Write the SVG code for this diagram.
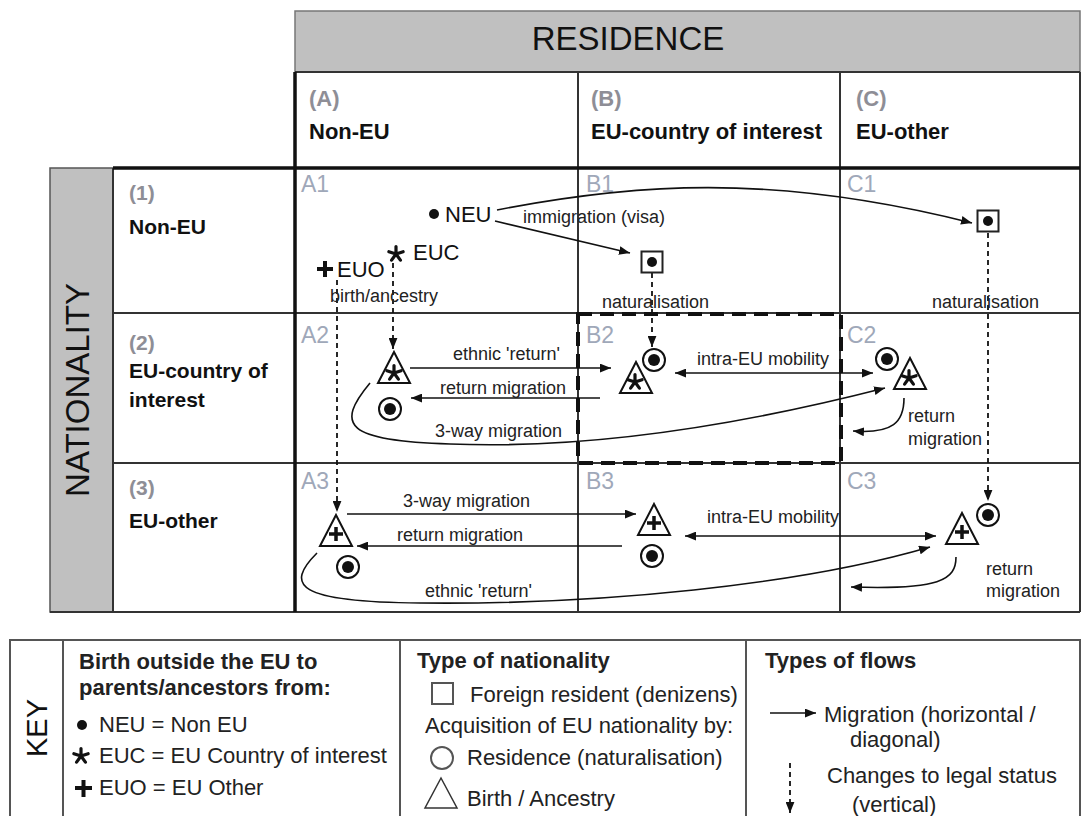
<svg xmlns="http://www.w3.org/2000/svg" xmlns:xlink="http://www.w3.org/1999/xlink" width="1082" height="816" viewBox="0 0 1082 816">
<style>
  text { font-family: "Liberation Sans", Arial, sans-serif; }
  .lbl { font-size: 18px; fill: #222; }
  .cell { font-size: 23px; fill: #9fa8b9; }
  .hdr { font-size: 22px; font-weight: bold; fill: #111; }
  .hdrg { font-size: 22px; font-weight: bold; fill: #8e8e96; }
  .row { font-size: 21px; font-weight: bold; fill: #111; }
  .rowg { font-size: 21px; font-weight: bold; fill: #8e8e96; }
  .orig { font-size: 22px; fill: #111; }
  .big { font-size: 33px; fill: #111; }
  .key { font-size: 22px; fill: #222; }
  .keyb { font-size: 22px; font-weight: bold; fill: #222; }
  .grid { stroke: #333; stroke-width: 2; fill: none; }
  .thick { stroke: #111; stroke-width: 3.5; fill: none; }
  .flow { stroke: #111; stroke-width: 1.6; fill: none; }
  .status { stroke: #111; stroke-width: 1.8; fill: none; stroke-dasharray: 5 4; }
</style>
<defs>
  <marker id="ah" viewBox="0 0 10 8" refX="10" refY="4" markerWidth="11" markerHeight="9" markerUnits="userSpaceOnUse" orient="auto-start-reverse">
    <path d="M0,0 L10,4 L0,8 Z" fill="#111"/>
  </marker>
  <g id="tri"><path d="M0,0 L16,31 L-16,31 Z" fill="#fff" stroke="#111" stroke-width="2"/></g>
  <g id="ring"><circle r="11" fill="#fff" stroke="#111" stroke-width="2"/><circle r="6" fill="#111"/></g>
  <g id="sq"><rect x="-10.5" y="-10.5" width="21" height="21" fill="#fff" stroke="#222" stroke-width="2"/><circle r="5" fill="#111"/></g>
  <g id="ast"><path d="M0,0 L0,-7.5 M0,0 L7.1,-2.3 M0,0 L4.4,6.1 M0,0 L-4.4,6.1 M0,0 L-7.1,-2.3" stroke="#111" stroke-width="3.2" stroke-linecap="round" fill="none"/></g>
  <g id="plus"><path d="M-7,0 H7 M0,-7 V7" stroke="#111" stroke-width="3.5" fill="none"/></g>
</defs>

<g id="grid">
  <rect x="295" y="11" width="785" height="61" fill="#c0c0c0" stroke="#777" stroke-width="1.5"/>
  <text class="big" x="628" y="50" text-anchor="middle">RESIDENCE</text>
  <rect x="50" y="168" width="63" height="444" fill="#c0c0c0" stroke="#555" stroke-width="1.5"/>
  <text class="big" x="89" y="390" text-anchor="middle" transform="rotate(-90 89 390)">NATIONALITY</text>
  <path class="grid" d="M295,72 H1080 M113,313 H1080 M113,463 H1080 M50,612 H1080 M113,168 V612 M578,72 V612 M840,72 V612 M1080,72 V612"/>
  <path class="thick" d="M113,168 H1080 M295,72 V612"/>
  <rect x="578" y="314" width="263" height="149" fill="none" stroke="#111" stroke-width="4" stroke-dasharray="14 8"/>
</g>

<g id="headers">
  <text class="hdrg" x="309" y="106">(A)</text>
  <text class="hdr" x="309" y="139">Non-EU</text>
  <text class="hdrg" x="591" y="106">(B)</text>
  <text class="hdr" x="591" y="139">EU-country of interest</text>
  <text class="hdrg" x="856" y="106">(C)</text>
  <text class="hdr" x="856" y="139">EU-other</text>
  <text class="rowg" x="129" y="200">(1)</text>
  <text class="row" x="129" y="234">Non-EU</text>
  <text class="rowg" x="129" y="350">(2)</text>
  <text class="row" x="129" y="378">EU-country of</text>
  <text class="row" x="129" y="407">interest</text>
  <text class="rowg" x="129" y="495">(3)</text>
  <text class="row" x="129" y="528">EU-other</text>
  <text class="cell" x="301" y="192">A1</text>
  <text class="cell" x="586" y="192">B1</text>
  <text class="cell" x="847" y="192">C1</text>
  <text class="cell" x="301" y="343">A2</text>
  <text class="cell" x="586" y="343">B2</text>
  <text class="cell" x="847" y="343">C2</text>
  <text class="cell" x="301" y="489">A3</text>
  <text class="cell" x="586" y="489">B3</text>
  <text class="cell" x="847" y="489">C3</text>
</g>

<g id="connectors">
  <path class="flow" d="M495,221 L630,253" marker-end="url(#ah)"/>
  <path class="flow" d="M497,210 C630,184 770,172 972,223" marker-end="url(#ah)"/>
  <path class="status" d="M652,273 L652,347" marker-end="url(#ah)"/>
  <path class="status" d="M988,233 L988,501" marker-end="url(#ah)"/>
  <path class="status" d="M393,263 L393,349" marker-end="url(#ah)"/>
  <path class="status" d="M337,280 L337,512" marker-end="url(#ah)"/>
  <path class="flow" d="M410,368 L611,368" marker-end="url(#ah)"/>
  <path class="flow" d="M600,398 L411,398" marker-end="url(#ah)"/>
  <path class="flow" d="M370,383 C335,425 345,441 450,444 C600,450 760,420 885,388" marker-end="url(#ah)"/>
  <path class="flow" d="M675,373 L873,373" marker-start="url(#ah)" marker-end="url(#ah)"/>
  <path class="flow" d="M904,398 C904,422 893,434 853,431" marker-end="url(#ah)"/>
  <path class="flow" d="M347,514 L636,514" marker-end="url(#ah)"/>
  <path class="flow" d="M622,546 L357,546" marker-end="url(#ah)"/>
  <path class="flow" d="M685,536 L936,536" marker-start="url(#ah)" marker-end="url(#ah)"/>
  <path class="flow" d="M317,553 C285,585 295,602 420,603 C600,605 800,585 930,547" marker-end="url(#ah)"/>
  <path class="flow" d="M956,557 C956,580 940,590 851,587" marker-end="url(#ah)"/>
  <text class="lbl" x="523" y="223">immigration (visa)</text>
  <text class="lbl" x="330" y="302">birth/ancestry</text>
  <text class="lbl" x="602" y="308">naturalisation</text>
  <text class="lbl" x="932" y="308">naturalisation</text>
  <text class="lbl" x="453" y="360">ethnic 'return'</text>
  <text class="lbl" x="440" y="394">return migration</text>
  <text class="lbl" x="435" y="437">3-way migration</text>
  <text class="lbl" x="697" y="365">intra-EU mobility</text>
  <text class="lbl" x="908" y="422">return</text>
  <text class="lbl" x="908" y="445">migration</text>
  <text class="lbl" x="403" y="507">3-way migration</text>
  <text class="lbl" x="397" y="541">return migration</text>
  <text class="lbl" x="707" y="523">intra-EU mobility</text>
  <text class="lbl" x="425" y="597">ethnic 'return'</text>
  <text class="lbl" x="986" y="575">return</text>
  <text class="lbl" x="986" y="597">migration</text>
</g>

<g id="node-NEU"><circle cx="434" cy="214" r="5" fill="#111"/><text class="orig" x="445" y="222">NEU</text></g>
<g id="node-EUC"><use xlink:href="#ast" x="396" y="254"/><text class="orig" x="413" y="260">EUC</text></g>
<g id="node-EUO"><path d="M317,269 H333 M325,261 V277" stroke="#111" stroke-width="4" fill="none"/><text class="orig" x="337" y="277">EUO</text></g>
<g id="node-B1"><use xlink:href="#sq" x="652" y="262"/></g>
<g id="node-C1"><use xlink:href="#sq" x="988" y="221"/></g>
<g id="node-A2-tri"><use xlink:href="#tri" x="394" y="352"/><use xlink:href="#ast" x="394" y="373"/></g>
<g id="node-A2-ring"><use xlink:href="#ring" x="390" y="409"/></g>
<g id="node-B2-ring"><use xlink:href="#ring" x="654" y="360"/></g>
<g id="node-B2-tri"><use xlink:href="#tri" x="636" y="362"/><use xlink:href="#ast" x="635" y="382"/></g>
<g id="node-C2-ring"><use xlink:href="#ring" x="887" y="359"/></g>
<g id="node-C2-tri"><use xlink:href="#tri" x="910" y="358"/><use xlink:href="#ast" x="909" y="378"/></g>
<g id="node-A3-tri"><use xlink:href="#tri" x="336" y="515"/><use xlink:href="#plus" x="336" y="534"/></g>
<g id="node-A3-ring"><use xlink:href="#ring" x="348" y="567"/></g>
<g id="node-B3-tri"><use xlink:href="#tri" x="654" y="504"/><use xlink:href="#plus" x="654" y="523"/></g>
<g id="node-B3-ring"><use xlink:href="#ring" x="652" y="556"/></g>
<g id="node-C3-tri"><use xlink:href="#tri" x="962" y="513"/><use xlink:href="#plus" x="962" y="532"/></g>
<g id="node-C3-ring"><use xlink:href="#ring" x="988" y="515"/></g>

<g id="key">
  <rect x="10" y="640" width="1070" height="190" fill="none" stroke="#555" stroke-width="2"/>
  <path d="M63,640 V816 M400,640 V816 M746,640 V816" stroke="#555" stroke-width="2" fill="none"/>
  <text x="47" y="728" font-size="29" fill="#111" text-anchor="middle" transform="rotate(-90 47 728)">KEY</text>
  <text class="keyb" x="79" y="669">Birth outside the EU to</text>
  <text class="keyb" x="79" y="695">parents/ancestors from:</text>
  <circle cx="82" cy="725" r="5" fill="#111"/>
  <text class="key" x="99" y="732">NEU = Non EU</text>
  <use xlink:href="#ast" x="81" y="756"/>
  <text class="key" x="99" y="763">EUC = EU Country of interest</text>
  <path d="M75,788 H92 M83.5,780 V797" stroke="#111" stroke-width="4" fill="none"/>
  <text class="key" x="99" y="795">EUO = EU Other</text>
  <text class="keyb" x="417" y="668">Type of nationality</text>
  <rect x="432" y="683" width="21" height="21" fill="none" stroke="#555" stroke-width="2"/>
  <text class="key" x="470" y="702">Foreign resident (denizens)</text>
  <text class="key" x="425" y="733">Acquisition of EU nationality by:</text>
  <circle cx="442" cy="758" r="11" fill="none" stroke="#555" stroke-width="2"/>
  <text class="key" x="467" y="765">Residence (naturalisation)</text>
  <path d="M441,778 L457,808 L425,808 Z" fill="none" stroke="#333" stroke-width="1.5"/>
  <text class="key" x="467" y="806">Birth / Ancestry</text>
  <text class="keyb" x="765" y="668">Types of flows</text>
  <path class="flow" d="M770,713 L816,713" marker-end="url(#ah)"/>
  <text class="key" x="824" y="722">Migration (horizontal /</text>
  <text class="key" x="850" y="747">diagonal)</text>
  <path class="status" d="M790,763 L790,813" marker-end="url(#ah)"/>
  <text class="key" x="827" y="783">Changes to legal status</text>
  <text class="key" x="852" y="812">(vertical)</text>
</g>
</svg>
